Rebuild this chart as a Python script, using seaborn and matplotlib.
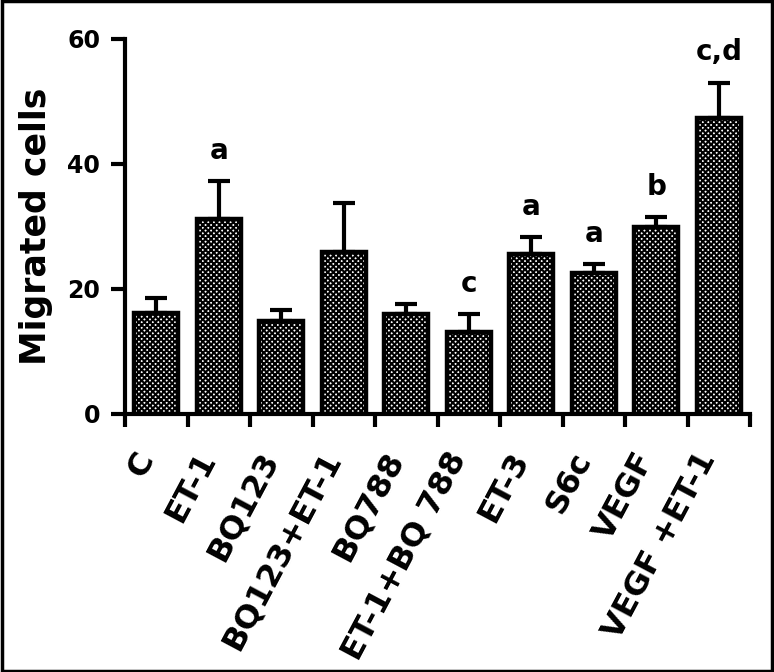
import numpy as np
import pandas as pd
import matplotlib
matplotlib.use("Agg")
import matplotlib.pyplot as plt
import matplotlib.transforms as mtransforms
import seaborn as sns
from matplotlib.patches import Rectangle

groups = ["C", "ET-1", "BQ123", "BQ123+ET-1", "BQ788", "ET-1+BQ 788",
          "ET-3", "S6c", "VEGF", "VEGF +ET-1"]
means = [16.1, 31.2, 14.9, 25.9, 16.0, 13.1, 25.6, 22.6, 29.9, 47.4]
errs = [2.5, 6.1, 1.7, 7.9, 1.6, 2.9, 2.7, 1.4, 1.6, 5.6]
letters = ["", "a", "", "", "", "c", "a", "a", "b", "c,d"]

df = pd.DataFrame({"group": groups, "cells": means})

sns.set_style("ticks")
plt.rcParams["font.family"] = ["DejaVu Sans"]
plt.rcParams["font.weight"] = "bold"
plt.rcParams["hatch.linewidth"] = 1.5
for k in ["text.color", "axes.labelcolor", "xtick.color", "ytick.color", "axes.edgecolor"]:
    plt.rcParams[k] = "black"

fig = plt.figure(figsize=(7.74, 6.72), dpi=100)
ax = fig.add_axes([0.1615, 0.384, 0.8075, 0.558])

sns.barplot(data=df, x="group", y="cells", color="white", edgecolor="black",
            linewidth=3.2, width=0.7, hatch="x" * 6, ax=ax, zorder=3)

# one sided error bars
x = np.arange(len(groups))
ax.errorbar(x, means, yerr=[np.zeros(len(errs)), errs], fmt="none",
            ecolor="black", elinewidth=3, capsize=8, capthick=3, zorder=2)

for i, lab in enumerate(letters):
    if lab:
        ax.text(i, means[i] + errs[i] + 2.6, lab, ha="center", va="bottom",
                fontsize=20, fontweight="bold")

ax.set_xlim(-0.5, len(groups) - 0.5)
ax.set_ylim(0, 60)
ax.set_yticks([0, 20, 40, 60])
ax.set_ylabel("Migrated cells", fontsize=25, fontweight="bold", labelpad=10)
ax.set_xlabel("")

sns.despine(ax=ax)
for s in ["left", "bottom"]:
    ax.spines[s].set_linewidth(3)

ax.tick_params(axis="y", length=10, width=3, direction="out", labelsize=17, pad=8)
ax.set_xticks(x)
ax.set_xticklabels(groups, rotation=62, ha="right", va="center",
                   rotation_mode="anchor", fontsize=23, fontweight="bold")
ax.tick_params(axis="x", which="major", length=0, pad=29)
shift = mtransforms.ScaledTranslation(-7 / 72, 0, fig.dpi_scale_trans)
for t in ax.get_xticklabels():
    t.set_transform(t.get_transform() + shift)
ax.set_xticks(np.arange(len(groups) + 1) - 0.5, minor=True)
ax.tick_params(axis="x", which="minor", length=9, width=3, direction="out")

fig.patches.append(Rectangle((0.002, 0.002), 0.996, 0.996, transform=fig.transFigure,
                             fill=False, edgecolor="black", linewidth=2.5))

fig.savefig("out.png", dpi=100)
